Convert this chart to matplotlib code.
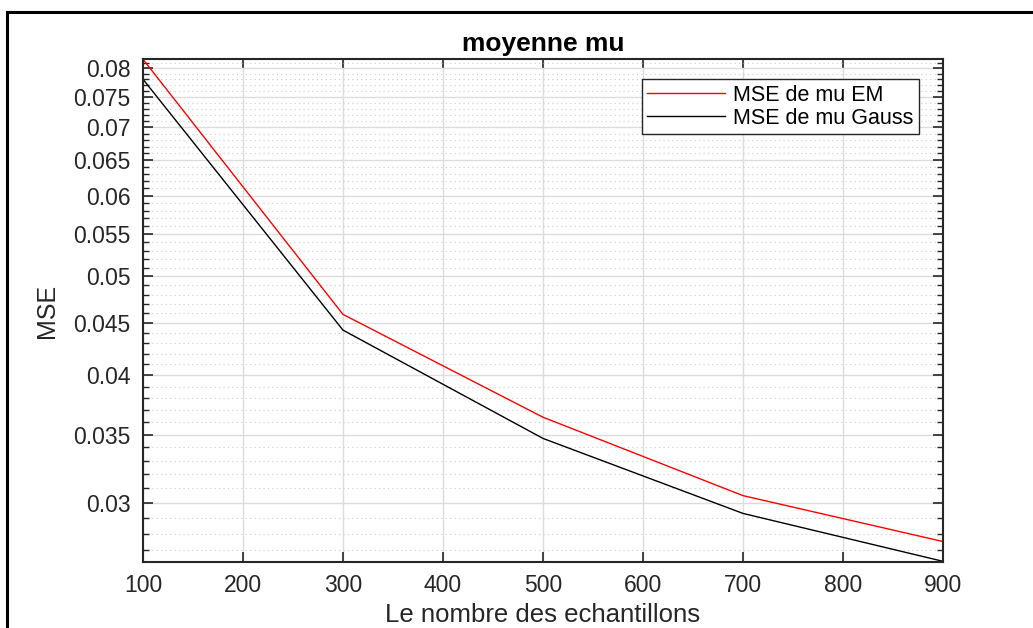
import matplotlib
matplotlib.use("Agg")
import matplotlib.pyplot as plt
from matplotlib.patches import Rectangle
from matplotlib.ticker import FixedLocator, FixedFormatter, NullFormatter

# sample sizes and MSE of the mean estimate
n_samples = [100, 300, 500, 700, 900]
mse_em = [0.0816, 0.0459, 0.0364, 0.0305, 0.0275]
mse_gauss = [0.0780, 0.0443, 0.0347, 0.0293, 0.0263]

x_ticks = [100, 200, 300, 400, 500, 600, 700, 800, 900]
y_ticks = [0.03, 0.035, 0.04, 0.045, 0.05, 0.055, 0.06, 0.065, 0.07, 0.075, 0.08]
y_tick_labels = ["0.03", "0.035", "0.04", "0.045", "0.05", "0.055",
                 "0.06", "0.065", "0.07", "0.075", "0.08"]
y_minor = [v / 1000 for v in range(27, 82) if v % 5 != 0]

plt.rcParams["font.family"] = ["Liberation Sans", "DejaVu Sans"]

fig = plt.figure(figsize=(10.33, 6.28), dpi=100)
fig.patches.append(Rectangle((7 / 1033, -0.1), 1.2, 1.1 - 12 / 628,
                             transform=fig.transFigure, fill=False,
                             edgecolor="black", linewidth=2.2))

ax = fig.add_axes([143 / 1033, 1 - 562 / 628, 800 / 1033, 503 / 628])
ax.plot(n_samples, mse_em, color="red", linewidth=1.0, label="MSE de mu EM")
ax.plot(n_samples, mse_gauss, color="black", linewidth=1.0,
        label="MSE de mu Gauss")

ax.set_yscale("log")
ax.set_xlim(100, 900)
ax.set_ylim(0.02626, 0.08165)

ax.xaxis.set_major_locator(FixedLocator(x_ticks))
ax.yaxis.set_major_locator(FixedLocator(y_ticks))
ax.yaxis.set_major_formatter(FixedFormatter(y_tick_labels))
ax.yaxis.set_minor_locator(FixedLocator(y_minor))
ax.yaxis.set_minor_formatter(NullFormatter())
ax.xaxis.set_minor_locator(FixedLocator([]))

ax.tick_params(which="both", direction="in", top=True, right=True,
               color="#262626", labelcolor="#262626")
ax.tick_params(which="major", length=7, width=1.2, labelsize=16.5, pad=9)
ax.tick_params(which="minor", length=4, width=1.0)

ax.grid(True, which="major", color="#dcdcdc", linewidth=1.0)
ax.grid(True, which="minor", axis="y", color="#cccccc", linewidth=0.8,
        linestyle=(0, (1, 3)))
ax.set_axisbelow(True)
for sp in ax.spines.values():
    sp.set_color("#262626")
    sp.set_linewidth(1.5)

ax.set_title("moyenne mu", fontsize=19, fontweight="bold", pad=6)
ax.set_xlabel("Le nombre des echantillons", fontsize=18.5, color="#262626",
              labelpad=4)
ax.set_ylabel("MSE", fontsize=18, color="#262626", labelpad=10)

leg = ax.legend(loc="upper right", bbox_to_anchor=(0.97, 0.96), fontsize=15.5,
                fancybox=False, framealpha=1, edgecolor="#262626",
                borderpad=0.25, handlelength=3.6, handletextpad=0.4,
                labelspacing=0.1, borderaxespad=0)
leg.get_frame().set_linewidth(1.0)

fig.savefig("out.png", dpi=100)
